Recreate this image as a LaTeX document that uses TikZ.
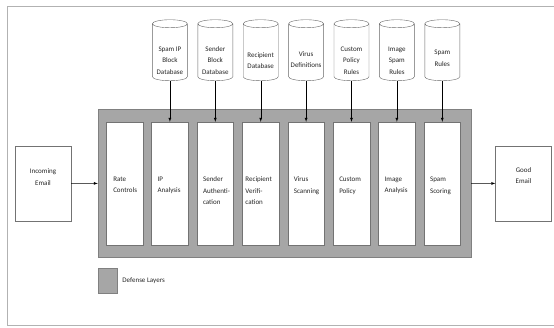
\documentclass[tikz,border=0pt]{standalone}
\usepackage{fontspec}
\setmainfont{Carlito}
\usetikzlibrary{positioning,shapes.geometric}

\begin{document}
\begin{tikzpicture}[>=latex, node distance=45.4pt, x=1pt, y=1pt]
    \tikzset{
        txt/.style={inner sep=0pt, align=left, text=black!85, font=\fontsize{7}{11.5}\selectfont},
        iobox/.style={draw=black!55, fill=white, minimum width=56pt, minimum height=75pt},
        layer/.style={draw=black!55, fill=white, minimum width=36.5pt, minimum height=123pt},
        db/.style={cylinder, shape border rotate=90, aspect=1.2, draw=black!60, fill=white, minimum width=35pt, minimum height=61pt},
        shade/.style={draw=black!50, fill=black!35}
    }
    \useasboundingbox (0,0) rectangle (554,-327);
    \draw[black!30, line width=0.8pt] (7,-6) rectangle (557,-325.5);

        % defense layers
        \node[shade, minimum width=373pt, minimum height=148pt] (layers) at (284.5,-183) {};
        \node[layer] (c1) at (124.5,-183.5) {};
        \node[layer] (c2) [right of=c1] {};
        \node[layer] (c3) [right of=c2] {};
        \node[layer] (c4) [right of=c3] {};
        \node[layer] (c5) [right of=c4] {};
        \node[layer] (c6) [right of=c5] {};
        \node[layer] (c7) [right of=c6] {};
        \node[layer] (c8) [right of=c7] {};

        \node[txt, below right=55pt and 7pt of c1.north west] (t1) {Rate\\Controls};
        \node[txt, below right=55pt and 6pt of c2.north west] (t2) {IP\\Analysis};
        \node[txt, below right=55pt and 6pt of c3.north west] (t3) {Sender\\Authenti-\\cation};
        \node[txt, below right=55pt and 3pt of c4.north west] (t4) {Recipient\\Verifi-\\cation};
        \node[txt, below right=55pt and 6pt of c5.north west] (t5) {Virus\\Scanning};
        \node[txt, below right=55pt and 6pt of c6.north west] (t6) {Custom\\Policy};
        \node[txt, below right=55pt and 6pt of c7.north west] (t7) {Image\\Analysis};
        \node[txt, below right=55pt and 6pt of c8.north west] (t8) {Spam\\Scoring};

        % databases
        \node[db] (d2) at (c2 |- 0,-53.5) {};
        \node[db] (d3) at (c3 |- 0,-53.5) {};
        \node[db] (d4) at (c4 |- 0,-53.5) {};
        \node[db] (d5) at (c5 |- 0,-53.5) {};
        \node[db] (d6) at (c6 |- 0,-53.5) {};
        \node[db] (d7) at (c7 |- 0,-53.5) {};
        \node[db] (d8) at (c8 |- 0,-53.5) {};

        \node[txt, align=center] (e2) at ([yshift=-7pt]d2.center) {Spam IP\\Block\\Database};
        \node[txt, align=center] (e3) at ([yshift=-7pt]d3.center) {Sender\\Block\\Database};
        \node[txt, align=center] (e4) at ([yshift=-7pt]d4.center) {Recipient\\Database};
        \node[txt, align=center] (e5) at ([yshift=-6pt]d5.center) {Virus\\Definitions};
        \node[txt, align=center] (e6) at ([yshift=-7pt]d6.center) {Custom\\Policy\\Rules};
        \node[txt, align=center] (e7) at ([yshift=-7pt]d7.center) {Image\\Spam\\Rules};
        \node[txt, align=center] (e8) at ([yshift=-5pt]d8.center) {Spam\\Rules};

        \draw[->] (d2) -- (c2);
        \draw[->] (d3) -- (c3);
        \draw[->] (d4) -- (c4);
        \draw[->] (d5) -- (c5);
        \draw[->] (d6) -- (c6);
        \draw[->] (d7) -- (c7);
        \draw[->] (d8) -- (c8);

        % email in and out
        \node[iobox] (in) at (43,-183.5) {};
        \node[txt, align=center] (inlbl) at (43,-177) {Incoming\\Email};
        \node[iobox] (out) at (523.5,-183.5) {};
        \node[txt, align=center] (outlbl) at (523.5,-175.5) {Good\\Email};

        \draw[->] (in) -- (layers);
        \draw[->] (layers) -- (out);

        % legend
        \node[shade, minimum width=19pt, minimum height=25pt] (key) at (107.5,-280.5) {};
        \node[txt, right=5pt of key] (keylbl) {Defense Layers};

    \end{tikzpicture}
\end{document}
